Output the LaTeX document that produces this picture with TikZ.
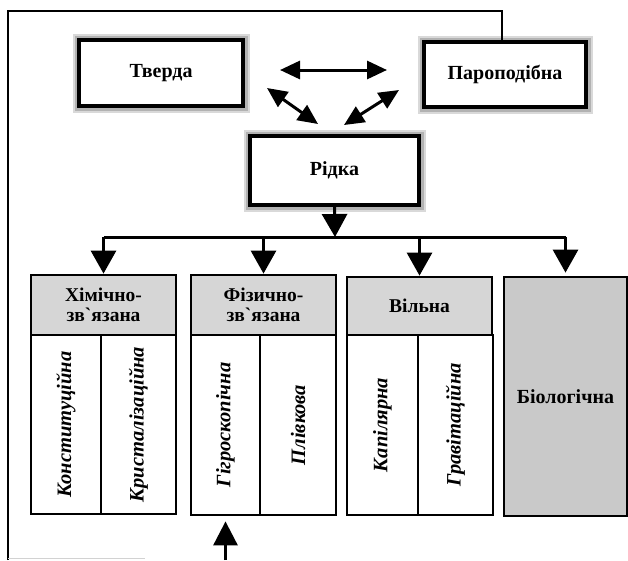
\documentclass[tikz,border=0pt]{standalone}
\usepackage{fontspec}
\setmainfont{Liberation Serif}
\usetikzlibrary{arrows.meta}
\begin{document}
\begin{tikzpicture}[x=1pt,y=-1pt,
  topbox/.style={draw=black, line width=3.5pt, fill=white,
    preaction={draw=gray!30, line width=13pt},
    preaction={draw=gray!60, line width=9pt},
    inner sep=0pt, font=\bfseries\fontsize{20}{22}\selectfont},
  hdr/.style={draw=black, line width=2.8pt, fill=gray!32, inner sep=0pt,
    align=center, font=\bfseries\fontsize{19.5}{20.5}\selectfont},
  cell/.style={draw=black, line width=2.8pt, fill=white, inner sep=0pt},
  vtext/.style={rotate=90, font=\bfseries\itshape\fontsize{20.5}{22}\selectfont},
  bio/.style={draw=black, line width=2.8pt, fill=gray!42, inner sep=0pt,
    font=\bfseries\fontsize{20}{22}\selectfont},
  conn/.style={line width=3pt},
  dbl/.style={line width=3pt, {Triangle[length=20pt,width=18pt]}-{Triangle[length=20pt,width=18pt]}},
  drop/.style={line width=3pt, -{Triangle[length=23pt,width=25pt]}},
  frameline/.style={line width=2.6pt}
]
\useasboundingbox (0,0) rectangle (628,560);

% top boxes
\node[topbox, minimum width=164pt, minimum height=66pt] (tv) at (161,73) {Тверда};
\node[topbox, minimum width=162pt, minimum height=65pt] (par) at (505,74.5) {Пароподібна};
\node[topbox, minimum width=169pt, minimum height=69pt] (rid) at (334.5,170.5) {Рідка};

% frame
\coordinate (fBL) at (8,560);
\coordinate (fTR) at (502,11);
\draw[frameline] (fBL) |- (fTR) -- (fTR |- par.north);
\coordinate (fG) at (145,558);
\draw[gray!35, line width=1pt] (8,558) -- (fG);

% phase arrows
\coordinate (h1) at (280,70);
\coordinate (h2) at (387,70);
\coordinate (dl1) at (267,88);
\coordinate (dl2) at (318,124);
\coordinate (dr1) at (344,125);
\coordinate (dr2) at (399,90);
\draw[dbl] (h1) -- (h2);
\draw[dbl] (dl1) -- (dl2);
\draw[dbl] (dr1) -- (dr2);

% columns
% Chemically bound
\node[hdr, minimum width=145pt, minimum height=60pt] (chH) at (103.5,305) {Хімічно-\\зв\textasciigrave язана};
\node[cell, minimum width=70pt, minimum height=179pt] (chA) at (66,424.5) {};
\node[cell, minimum width=75pt, minimum height=179pt] (chB) at (138.5,424.5) {};
\node[vtext] at (chA) {Конституційна};
\node[vtext] at (chB) {Кристалізаційна};
% Physically bound
\node[hdr, minimum width=145pt, minimum height=60pt] (phH) at (263.5,305) {Фізично-\\зв\textasciigrave язана};
\node[cell, minimum width=69pt, minimum height=180pt] (phA) at (225.5,425) {};
\node[cell, minimum width=76pt, minimum height=180pt] (phB) at (298,425) {};
\node[vtext] at (phA) {Гігроскопічна};
\node[vtext] at (phB) {Плівкова};
% Free
\node[hdr, minimum width=145pt, minimum height=58pt] (frH) at (419.5,306) {Вільна};
\node[cell, minimum width=71pt, minimum height=180pt] (frA) at (382.5,425) {};
\node[cell, minimum width=75pt, minimum height=180pt] (frB) at (455.5,425) {};
\node[vtext] at (frA) {Капілярна};
\node[vtext] at (frB) {Гравітаційна};
% Biological
\node[bio, minimum width=123pt, minimum height=239pt] (bio) at (565.5,396.5) {Біологічна};

% distribution
\coordinate (bus) at (335,237);
\coordinate (busL) at (chH.north |- bus);
\coordinate (busR) at (bio.north |- bus);
\draw[drop] (rid.south) -- (bus);
\draw[conn] (busL) -- (busR);
\draw[drop] (busL) -- (chH.north);
\draw[drop] (phH.north |- bus) -- (phH.north);
\draw[drop] (frH.north |- bus) -- (frH.north);
\draw[drop] (busR) -- ([yshift=3pt]bio.north);

% arrow from below
\coordinate (bot) at (phA.south |- 0,560);
\draw[line width=3pt, -{Triangle[length=24pt,width=24pt]}] (bot) -- ([yshift=-5pt]phA.south);
\end{tikzpicture}
\end{document}
